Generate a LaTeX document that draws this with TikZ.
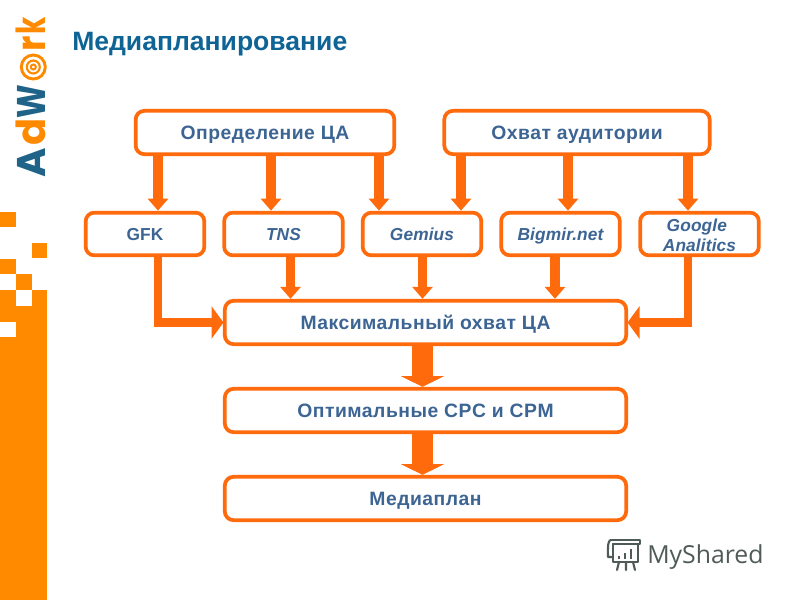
\documentclass[tikz,border=0pt]{standalone}
\usepackage{fontspec}
\setmainfont{Liberation Sans}
\newfontfamily\logofont{Poppins}
\newfontfamily\sharedfont{Open Sans}
\usetikzlibrary{arrows.meta}
\definecolor{boxorange}{HTML}{FF6A0D}
\definecolor{sideorange}{HTML}{FF8A00}
\definecolor{boxtext}{HTML}{3C6594}
\definecolor{titleblue}{HTML}{0F6496}
\definecolor{logoblue}{HTML}{1F6488}
\definecolor{sharedgray}{HTML}{4F5B57}
\newcommand{\lsp}[1]{\addfontfeature{LetterSpace=#1}}
\newcommand{\sqz}[2]{\scalebox{#1}[1]{#2}}
\tikzset{
 x=0.75pt,y=-0.75pt,
 box/.style={draw=boxorange,line width=2.8pt,rounded corners=6.5pt,fill=white,outer sep=0pt,inner sep=0pt,text=boxtext,font=\fontsize{14.5pt}{15pt}\selectfont\bfseries\lsp{2.6},minimum height=32.5pt,text height=10.4pt,text depth=0pt},
 top/.style={box},
 src/.style={box,minimum width=89pt,minimum height=32pt,font=\fontsize{13pt}{15pt}\selectfont\bfseries\lsp{0.7},text height=9.3pt},
 wide/.style={box,minimum width=301pt},
 thin/.style={draw=boxorange,line width=7pt,shorten >=1.5pt,-{Triangle[length=9pt,width=15pt]}},
 elbow/.style={draw=boxorange,line width=6.5pt,shorten >=1pt,-{Triangle[length=9pt,width=24pt]}},
 fat/.style={draw=boxorange,line width=16pt,shorten >=1.5pt,-{Triangle[length=8pt,width=32pt]}},
 lett/.style={rotate=90,anchor=base west,inner sep=0pt,font=\fontsize{30pt}{30pt}\selectfont\logofont\bfseries},
 icon/.style={draw=sharedgray,line width=1.6pt,line cap=round,line join=round},
}
\begin{document}
\begin{tikzpicture}
\useasboundingbox (0,0) rectangle (800,600);
\fill[white] (0,0) rectangle (800,600);
% sidebar
\fill[sideorange] (0,290) rectangle (47,600);
\fill[white] (16,290) rectangle (32,306);
\fill[white] (0,322) rectangle (16,337);
\fill[sideorange] (0,212) rectangle (16,227);
\fill[sideorange] (32,243) rectangle (47,258);
\fill[sideorange] (0,259) rectangle (16,274);
\fill[sideorange] (16,274) rectangle (32,290);
% logo
\node[lett,text=logoblue] (lA) at (45,178) {A};
\node[lett,text=sideorange] (ld) at (45,146) {d};
\node[lett,text=logoblue] (lW) at (45,118.5) {\sqz{0.8}{W}};
\draw[sideorange,line width=2.2pt] (33.3,67) circle (12);
\draw[sideorange,line width=1.6pt] (33.3,67) circle (6.5);
\draw[sideorange,line width=1.5pt] (33.3,67) circle (2.5);
\node[lett,text=sideorange] (lr) at (45,52) {\sqz{0.9}{r}};
\node[lett,text=sideorange] (lk) at (45,35) {\sqz{0.7}{k}};
% title
\node[anchor=base west,inner sep=0pt,text=titleblue,font=\fontsize{19.9pt}{20pt}\selectfont\bfseries] (title) at (72,50) {Медиапланирование};
% columns of arrows
\coordinate (c1) at (158,0);
\coordinate (c2) at (271,0);
\coordinate (c3) at (379,0);
\coordinate (c4) at (461,0);
\coordinate (c5) at (568,0);
\coordinate (c6) at (688,0);
\coordinate (c7) at (290.5,0);
\coordinate (c8) at (422.5,0);
\coordinate (c9) at (555,0);
% boxes
\node[top,minimum width=194pt] (def) at (265,132.5) {Определение ЦА};
\node[top,minimum width=199pt] (cov) at (577,132.5) {Охват аудитории};
\node[src] (gfk) at (145,234) {GFK};
\node[src] (tns) at (283.5,234) {\itshape TNS};
\node[src] (gem) at (422,234) {\itshape Gemius};
\node[src] (big) at (560.5,234) {\itshape Bigmir.net};
\node[src,text height=,text depth=] (goo) at (699.5,234) {};
\node[anchor=center,inner sep=0pt,align=center,text=boxtext,font=\fontsize{13pt}{15pt}\selectfont\bfseries\lsp{0.7}] (gootext) at (699.5,235) {\itshape Google\hspace*{4pt}\\\itshape Analitics};
\node[wide] (max) at (425.5,322.5) {Максимальный охват ЦА};
\node[wide] (opt) at (425.5,410.5) {Оптимальные CPC и CPM};
\node[wide] (med) at (425.5,498.5) {Медиаплан};
% connectors
\draw[thin] (def.south -| c1) -- (gfk.north -| c1);
\draw[thin] (def.south -| c2) -- (tns.north -| c2);
\draw[thin] (def.south -| c3) -- (gem.north -| c3);
\draw[thin] (cov.south -| c4) -- (gem.north -| c4);
\draw[thin] (cov.south -| c5) -- (big.north -| c5);
\draw[thin] (cov.south -| c6) -- (goo.north -| c6);
\draw[thin] (tns.south -| c7) -- (max.north -| c7);
\draw[thin] (gem.south -| c8) -- (max.north -| c8);
\draw[thin] (big.south -| c9) -- (max.north -| c9);
\draw[elbow] (gfk.south -| c1) |- (max.west);
\draw[elbow] (goo.south -| c6) |- (max.east);
\draw[fat] (max.south -| c8) -- (opt.north -| c8);
\draw[fat] (opt.south -| c8) -- (med.north -| c8);
% MyShared
\node[anchor=base west,inner sep=0pt,text=sharedgray,font=\fontsize{18.6pt}{20pt}\selectfont\sharedfont] (shared) at (647,563) {MyShared};
\draw[icon] (613,544) -- (613,562) -- (638,562) -- (638,544);
\draw[icon] (611,540) -- (640,540) -- (640,544) -- (613,544);
\draw[icon] (611,540) .. controls (607,540) and (608,553) .. (608,557) -- (613,557);
\draw[icon] (619,562) -- (617,570) (626,562) -- (626,570) (633,562) -- (635,570);
\draw[icon,line width=2.2pt,line cap=butt] (619,559) -- (619,556) (625,559) -- (625,553) (631,559) -- (631,549);
\end{tikzpicture}
\end{document}
